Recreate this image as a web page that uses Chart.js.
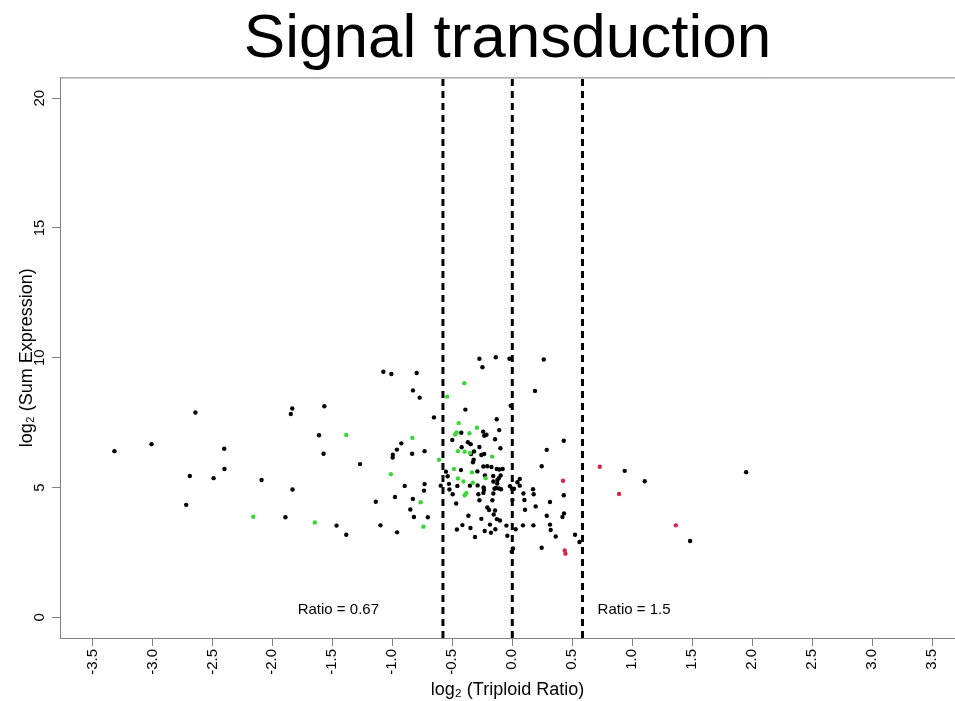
<!DOCTYPE html>
<html lang="en">
<head>
    <meta charset="UTF-8">
    <title>Signal transduction</title>
    <script src="https://cdn.jsdelivr.net/npm/chart.js@4.4.1/dist/chart.umd.min.js"></script>
    <style>
      body { margin: 0; background: #fff; }
      #wrap { width: 955px; height: 701px; position: relative; }
    </style>
</head>
<body>
<div id="wrap"><canvas id="signalChart"></canvas></div>
<script>
  // log2 triploid ratio (x) and log2 sum expression (y)
  const blackX = [-3.316, -3.007, -2.641, -2.401, -2.399, -2.688, -2.490, -2.718, -2.090, -1.832,
    -1.891, -1.834, -1.846, -1.611, -1.567, -1.573, -1.465, -1.384, -1.269, -1.138,
    -1.099, -1.075, -1.008, -0.797, -0.828, -0.772, -0.653, -0.925, -0.962, -0.996,
    -0.997, -0.835, -0.731, -0.897, -0.731, -0.736, -0.978, -0.829, -0.850, -0.820,
    -0.704, -0.960, -0.597, -0.553, -0.539, -0.528, -0.524, -0.500, -0.497, -0.468,
    -0.462, -0.458, -0.428, -0.425, -0.422, -0.416, -0.391, -0.370, -0.347, -0.366,
    -0.353, -0.349, -0.344, -0.319, -0.322, -0.328, -0.311, -0.291, -0.289, -0.283,
    -0.274, -0.274, -0.249, -0.274, -0.258, -0.258, -0.234, -0.243, -0.234, -0.215,
    -0.241, -0.209, -0.228, -0.239, -0.236, -0.241, -0.230, -0.178, -0.208, -0.194,
    -0.186, -0.174, -0.159, -0.166, -0.158, -0.158, -0.149, -0.144, -0.141, -0.155,
    -0.144, -0.138, -0.130, -0.130, -0.126, -0.124, -0.136, -0.128, -0.109, -0.108,
    -0.113, -0.111, -0.103, -0.099, -0.097, -0.094, -0.080, -0.049, -0.041, -0.024,
    -0.013, -0.019, 0.001, -0.003, 0.014, 0.006, -0.005, 0.028, 0.043, 0.062,
    0.062, 0.093, 0.101, 0.106, 0.089, 0.173, 0.178, 0.176, 0.195, 0.189,
    0.245, 0.245, 0.262, 0.287, 0.287, 0.314, 0.314, 0.320, 0.362, 0.429,
    0.429, 0.431, 0.418, 0.523, 0.560, 0.937, 1.104, 1.482, 1.949];
  const blackY = [6.40, 6.67, 7.89, 6.49, 5.71, 5.44, 5.36, 4.33, 5.29, 4.92,
    3.85, 8.04, 7.83, 7.01, 8.13, 6.30, 3.53, 3.18, 5.90, 4.45,
    3.54, 9.46, 9.37, 9.41, 8.74, 8.46, 7.70, 6.70, 6.46, 6.26,
    6.15, 6.30, 6.40, 5.06, 5.13, 4.88, 4.63, 4.56, 4.15, 3.86,
    3.85, 3.27, 5.07, 5.61, 5.43, 5.14, 4.92, 6.83, 4.74, 4.38,
    3.38, 5.06, 5.67, 7.11, 6.55, 3.55, 8.00, 6.74, 6.67, 3.91,
    5.07, 3.44, 6.29, 6.39, 6.07, 5.97, 3.09, 5.62, 5.08, 4.74,
    6.56, 9.96, 9.63, 4.51, 3.79, 6.25, 6.29, 7.15, 6.99, 7.03,
    5.81, 5.82, 5.46, 5.00, 4.90, 4.79, 3.32, 3.26, 4.23, 4.13,
    3.57, 5.79, 5.44, 4.51, 5.23, 4.77, 4.95, 6.86, 3.39, 3.96,
    4.11, 10.02, 7.63, 5.71, 5.15, 5.29, 4.98, 3.78, 7.21, 5.69,
    5.36, 4.96, 3.73, 6.51, 5.46, 4.93, 5.71, 3.53, 3.14, 9.96,
    8.15, 5.05, 4.52, 4.95, 4.95, 2.65, 2.52, 3.39, 5.20, 5.33,
    5.07, 4.77, 4.52, 4.14, 3.54, 4.93, 4.74, 3.54, 4.27, 8.72,
    5.82, 2.68, 9.93, 6.45, 3.91, 4.44, 3.57, 3.36, 3.11, 6.80,
    4.70, 4.00, 3.86, 3.18, 2.90, 5.64, 5.24, 2.94, 5.59];

  const greenX = [-2.159, -1.646, -1.384, -1.012, -0.833, -0.764, -0.741, -0.611, -0.543, -0.486,
    -0.453, -0.453, -0.447, -0.476, -0.464, -0.407, -0.400, -0.397, -0.397, -0.384,
    -0.357, -0.353, -0.336, -0.329, -0.295, -0.222, -0.168];
  const greenY = [3.87, 3.65, 7.02, 5.51, 6.91, 4.43, 3.49, 6.07, 8.50, 5.71,
    6.40, 5.35, 7.48, 7.04, 7.12, 5.23, 9.02, 6.38, 4.70, 4.78,
    7.09, 6.33, 5.58, 5.18, 7.30, 5.36, 6.19];

  const redX = [0.423, 0.437, 0.443, 0.729, 0.890, 1.363];
  const redY = [5.26, 2.57, 2.45, 5.80, 4.75, 3.54];

  // cut-offs: log2(0.67), 0, log2(1.5)
  const cutoffs = [-0.578, 0, 0.585];
  const ratioNotes = [
    { text: 'Ratio = 0.67', x: -1.45, y: 0.3 },
    { text: 'Ratio = 1.5', x: 1.015, y: 0.3 }
  ];

  const xTicks = [-3.5, -3.0, -2.5, -2.0, -1.5, -1.0, -0.5, 0.0, 0.5, 1.0, 1.5, 2.0, 2.5, 3.0, 3.5];
  const yTicks = [0, 5, 10, 15, 20];
  const xMin = -3.77, xMax = 3.69, yMin = -0.8, yMax = 20.8;

  const FONT = "'Liberation Sans', Arial, sans-serif";
  const AXIS_GRAY = '#808080';

  const pts = (xs, ys) => xs.map((x, i) => ({ x: x, y: ys[i] }));

  const dotSet = (label, xs, ys, color) => ({
    label: label,
    data: pts(xs, ys),
    backgroundColor: color,
    borderWidth: 0,
    pointRadius: 2.2
  });

  const lineSets = cutoffs.map(c => ({
    type: 'line',
    label: 'cut ' + c,
    data: [{ x: c, y: yMin }, { x: c, y: yMax }],
    borderColor: '#000',
    borderWidth: 3,
    borderDash: [7, 5],
    pointRadius: 0,
    fill: false
  }));

  // top frame line + ratio notes
  const extras = {
    id: 'extras',
    afterDatasetsDraw(chart) {
      const { ctx, chartArea, scales } = chart;
      ctx.save();
      ctx.strokeStyle = AXIS_GRAY;
      ctx.lineWidth = 1;
      ctx.beginPath();
      ctx.moveTo(chartArea.left, chartArea.top + 0.5);
      ctx.lineTo(chartArea.right, chartArea.top + 0.5);
      ctx.stroke();
      ctx.fillStyle = '#000';
      ctx.font = '15px ' + FONT;
      ctx.textAlign = 'center';
      ctx.textBaseline = 'middle';
      ratioNotes.forEach(n => {
        ctx.fillText(n.text, scales.x.getPixelForValue(n.x), scales.y.getPixelForValue(n.y));
      });
      ctx.restore();
    }
  };

  const ctx = document.getElementById('signalChart').getContext('2d');

  new Chart(ctx, {
    type: 'scatter',
    data: {
      datasets: [
        dotSet('up', redX, redY, 'rgb(218,35,70)'),
        dotSet('down', greenX, greenY, 'rgb(55,215,55)'),
        dotSet('genes', blackX, blackY, '#000'),
        ...lineSets
      ]
    },
    options: {
      responsive: true,
      maintainAspectRatio: false,
      animation: false,
      layout: { autoPadding: false, padding: { top: 1, right: 0, bottom: 0, left: 0 } },
      plugins: {
        legend: { display: false },
        tooltip: { enabled: false },
        title: {
          display: true,
          text: 'Signal transduction',
          fullSize: false,
          color: '#000',
          font: { family: FONT, size: 62, weight: 'normal', lineHeight: 1.2 },
          padding: { top: 2, bottom: 0 }
        }
      },
      scales: {
        x: {
          type: 'linear',
          min: xMin,
          max: xMax,
          afterBuildTicks: s => { s.ticks = xTicks.map(v => ({ value: v })); },
          afterFit: s => { s.height = 63; },
          grid: { drawOnChartArea: false, drawTicks: true, tickLength: 8, color: AXIS_GRAY, tickColor: AXIS_GRAY },
          border: { display: true, color: AXIS_GRAY, width: 1 },
          ticks: {
            autoSkip: false,
            minRotation: 90,
            maxRotation: 90,
            padding: 3,
            color: '#000',
            font: { family: FONT, size: 15 },
            callback: v => Number(v).toFixed(1)
          },
          title: {
            display: true,
            text: 'log₂ (Triploid Ratio)',
            color: '#000',
            font: { family: FONT, size: 18 },
            padding: { top: 0, bottom: 0 }
          }
        },
        y: {
          type: 'linear',
          min: yMin,
          max: yMax,
          afterBuildTicks: s => { s.ticks = yTicks.map(v => ({ value: v })); },
          afterFit: s => { s.width = 60; },
          grid: { drawOnChartArea: false, drawTicks: true, tickLength: 8, color: AXIS_GRAY, tickColor: AXIS_GRAY },
          border: { display: true, color: AXIS_GRAY, width: 1 },
          ticks: {
            autoSkip: false,
            minRotation: 90,
            maxRotation: 90,
            crossAlign: 'center',
            padding: 4,
            color: '#000',
            font: { family: FONT, size: 15 }
          },
          title: {
            display: true,
            text: 'log₂ (Sum Expression)',
            color: '#000',
            font: { family: FONT, size: 18 },
            padding: { top: 16, bottom: 0 }
          }
        }
      }
    },
    plugins: [extras]
  });
</script>
</body>
</html>
